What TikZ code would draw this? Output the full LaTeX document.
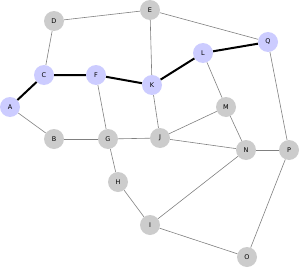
\documentclass[tikz,border=0pt]{standalone}
\usepackage{fontspec}
\setsansfont{DejaVu Sans}
\usetikzlibrary{arrows.meta,calc}

\begin{document}
\begin{tikzpicture}[x=1pt, y=-1pt, font=\sffamily\fontsize{6.5}{7}\selectfont,
  vtx/.style={circle, fill=black!20, minimum size=20pt, inner sep=0pt},
  onpath/.style={vtx, fill=blue!20},
  edge/.style={draw=black!50, line width=0.6pt},
  pathedge/.style={draw=black, line width=2pt}]
  \useasboundingbox (0,0) rectangle (300,268);
  % vertices on the highlighted path
  \node[onpath] (A) at (10,107) {A};
  \node[onpath] (C) at (44,75) {C};
  \node[onpath] (F) at (96,75) {F};
  \node[onpath] (K) at (152,85) {K};
  \node[onpath] (L) at (203,53) {L};
  \node[onpath] (Q) at (268,42) {Q};
  % the other vertices
  \node[vtx] (D) at (54,21) {D};
  \node[vtx] (E) at (150,10) {E};
  \node[vtx] (M) at (226,107) {M};
  \node[vtx] (B) at (54,139) {B};
  \node[vtx] (G) at (108,139) {G};
  \node[vtx] (J) at (160,138) {J};
  \node[vtx] (N) at (246,150) {N};
  \node[vtx] (P) at (289,150) {P};
  \node[vtx] (H) at (118,182) {H};
  \node[vtx] (I) at (150,225) {I};
  \node[vtx] (O) at (247,257) {O};
  % plain edges
  \draw[edge] (D) -- (E);
  \draw[edge] (D) -- (C);
  \draw[edge] (E) -- (Q);
  \draw[edge] (E) -- (K);
  \draw[edge] (A) -- (B);
  \draw[edge] (B) -- (G);
  \draw[edge] (F) -- (G);
  \draw[edge] (G) -- (J);
  \draw[edge] (G) -- (H);
  \draw[edge] (K) -- (J);
  \draw[edge] (J) -- (M);
  \draw[edge] (J) -- (N);
  \draw[edge] (L) -- (M);
  \draw[edge] (M) -- (N);
  \draw[edge] (N) -- (P);
  \draw[edge] (Q) -- (P);
  \draw[edge] (H) -- (I);
  \draw[edge] (I) -- (N);
  \draw[edge] (I) -- (O);
  \draw[edge] (O) -- (P);
  % shortest path A to Q
  \draw[pathedge] (A) -- (C) -- (F) -- (K) -- (L) -- (Q);
\end{tikzpicture}
\end{document}
